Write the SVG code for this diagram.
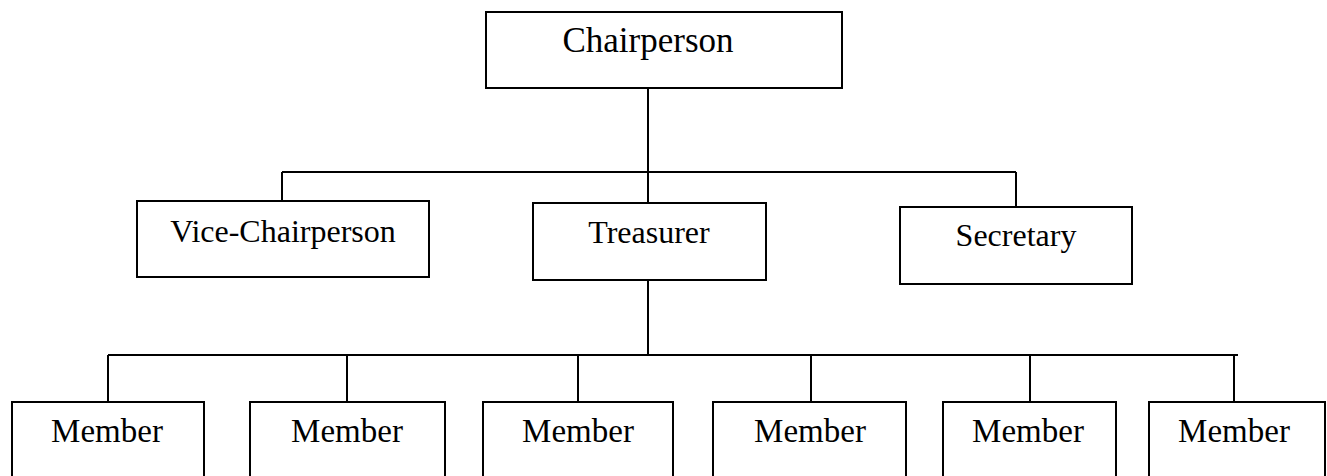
<svg xmlns="http://www.w3.org/2000/svg" width="1327" height="476" viewBox="0 0 1327 476">
<style>
.box{fill:#fff;stroke:#000;stroke-width:2}
.lbl{font-family:"Liberation Serif","Times New Roman",serif;font-size:32px;fill:#000;text-anchor:middle}
.big{font-size:35px}
.mem{font-size:33px}
.con{fill:none;stroke:#000;stroke-width:2}
</style>
<rect width="1327" height="476" fill="#fff"/>
<g id="connectors">
<path class="con" d="M648 88V172M282 172H1016M282 172V201M648 172V203M1016 172V207"/>
<path class="con" d="M648 280V355M108 355H1238M108 355V402M347 355V402M578 355V402M811 355V402M1030 355V402M1234 355V402"/>
</g>
<g id="chairperson"><rect class="box" x="486" y="12" width="356" height="76"/><text class="lbl big" x="648" y="52">Chairperson</text></g>
<g id="vice-chairperson"><rect class="box" x="137" y="201" width="292" height="76"/><text class="lbl" x="283" y="242">Vice-Chairperson</text></g>
<g id="treasurer"><rect class="box" x="533" y="203" width="233" height="77"/><text class="lbl" x="649" y="243">Treasurer</text></g>
<g id="secretary"><rect class="box" x="900" y="207" width="232" height="77"/><text class="lbl" x="1016" y="246">Secretary</text></g>
<g id="member1"><rect class="box" x="12" y="402" width="192" height="80"/><text class="lbl mem" x="107" y="442">Member</text></g>
<g id="member2"><rect class="box" x="250" y="402" width="195" height="80"/><text class="lbl mem" x="347" y="442">Member</text></g>
<g id="member3"><rect class="box" x="483" y="402" width="190" height="80"/><text class="lbl mem" x="578" y="442">Member</text></g>
<g id="member4"><rect class="box" x="713" y="402" width="193" height="80"/><text class="lbl mem" x="810" y="442">Member</text></g>
<g id="member5"><rect class="box" x="943" y="402" width="173" height="80"/><text class="lbl mem" x="1028" y="442">Member</text></g>
<g id="member6"><rect class="box" x="1149" y="402" width="176" height="80"/><text class="lbl mem" x="1234" y="442">Member</text></g>
</svg>
